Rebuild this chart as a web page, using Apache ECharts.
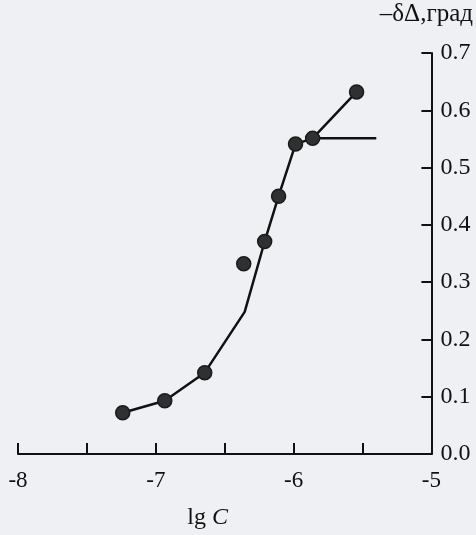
<!DOCTYPE html>
<html>
<head>
<meta charset="utf-8">
<script src="https://cdn.jsdelivr.net/npm/echarts@6/dist/echarts.min.js"></script>
<style>
html,body{margin:0;padding:0;background:#eff0f3;}
#c{width:476px;height:535px;}
</style>
</head>
<body>
<div id="c"></div>
<script>
// Data
const xTicksLabelled = [-8, -7, -6, -5];
const curveX = [-7.24, -6.935, -6.645, -6.355, -6.21, -6.109, -5.986, -5.862, -5.543];
const curveY = [0.072, 0.093, 0.142, 0.248, 0.371, 0.450, 0.541, 0.551, 0.632];
const curveMarked = [true, true, true, false, true, true, true, true, true];
const outlierX = [-6.362];
const outlierY = [0.332];
const plateauX = [-5.862, -5.40];
const plateauY = [0.551, 0.551];
const xName = 'lg C';
const yName = '–δΔ,град';

const FONT = '"Liberation Serif", "DejaVu Serif", serif';
const INK = '#111111';

const chart = echarts.init(document.getElementById('c'), null, {renderer: 'canvas'});

const curveData = curveX.map((x, i) => curveMarked[i]
  ? {value: [x, curveY[i]]}
  : {value: [x, curveY[i]], symbol: 'none', symbolSize: 0});

const xParts = xName.split(' ');

chart.setOption({
  backgroundColor: '#eff0f3',
  animation: false,
  grid: {left: 18, right: 43, top: 53, bottom: 67, containLabel: false},
  xAxis: {
    type: 'value', min: -8, max: -5, interval: 0.5,
    name: '{a|' + xParts[0] + ' }{b|' + xParts[1] + '}',
    nameLocation: 'middle',
    nameGap: 52,
    nameTextStyle: {
      fontFamily: FONT, fontSize: 24, color: INK, padding: [0, 34, 0, 0],
      rich: {
        a: {fontFamily: FONT, fontSize: 24, color: INK},
        b: {fontFamily: FONT, fontSize: 24, color: INK, fontStyle: 'italic'}
      }
    },
    axisLine: {show: true, lineStyle: {color: INK, width: 2}},
    axisTick: {show: true, inside: true, length: 11, lineStyle: {color: INK, width: 2}},
    axisLabel: {
      fontFamily: FONT, fontSize: 23, color: INK, margin: 15,
      formatter: v => xTicksLabelled.includes(v) ? String(v) : ''
    },
    splitLine: {show: false}
  },
  yAxis: {
    type: 'value', min: 0, max: 0.7, interval: 0.1,
    position: 'right',
    name: yName,
    nameLocation: 'end',
    nameGap: 26,
    nameTextStyle: {fontFamily: FONT, fontSize: 25, color: INK, align: 'center', padding: [0, 10, 0, 0]},
    axisLine: {show: true, lineStyle: {color: INK, width: 2}},
    axisTick: {show: true, inside: true, length: 10, lineStyle: {color: INK, width: 2}},
    axisLabel: {
      fontFamily: FONT, fontSize: 24, color: INK, margin: 9,
      formatter: v => v.toFixed(1)
    },
    splitLine: {show: false}
  },
  series: [
    {
      type: 'line',
      data: curveData,
      symbol: 'circle',
      symbolSize: 14,
      lineStyle: {color: INK, width: 2.5},
      itemStyle: {color: '#2e3132', borderColor: '#1a1a1a', borderWidth: 1.5, opacity: 1},
      z: 3
    },
    {
      type: 'line',
      data: plateauX.map((x, i) => [x, plateauY[i]]),
      symbol: 'none',
      lineStyle: {color: INK, width: 2.5},
      z: 2
    },
    {
      type: 'scatter',
      data: outlierX.map((x, i) => [x, outlierY[i]]),
      symbol: 'circle',
      symbolSize: 14,
      itemStyle: {color: '#2e3132', borderColor: '#1a1a1a', borderWidth: 1.5, opacity: 1},
      z: 3
    }
  ]
});
</script>
</body>
</html>
